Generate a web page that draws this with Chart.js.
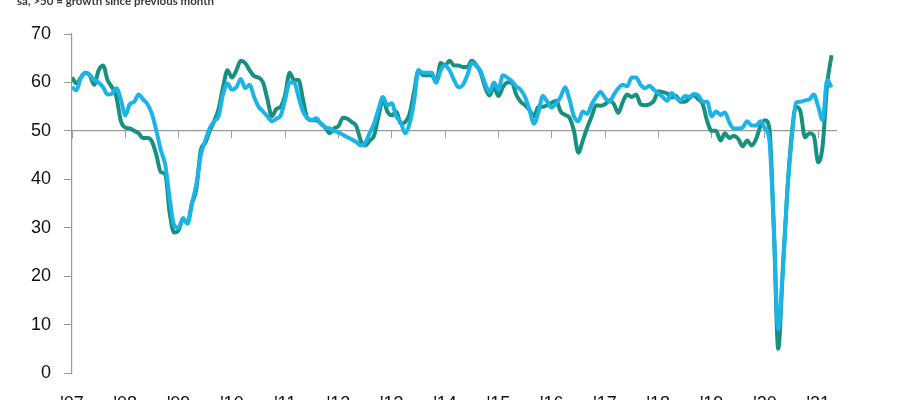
<!DOCTYPE html>
<html>
<head>
<meta charset="utf-8">
<script src="https://cdn.jsdelivr.net/npm/chart.js@4/dist/chart.umd.min.js"></script>
<style>
  html, body { margin:0; padding:0; background:#fff; overflow:hidden; width:900px; height:400px; }
  #wrap { position:relative; width:900px; height:430px; }
  #sub { position:absolute; left:17px; top:-6px; font-family:Lato, "Liberation Sans", sans-serif; font-weight:700; font-size:11.5px; color:#3a3a3a; white-space:nowrap; }
</style>
</head>
<body>
<div id="wrap">
  <div id="sub">sa, &gt;50 = growth since previous month</div>
  <canvas id="chart0" width="900" height="430"></canvas>
</div>
<script>
// monthly index readings, Jan 2007 .. Apr 2021
var years = ['07','08','09','10','11','12','13','14','15','16','17','18','19','20','21'];

var greenSeries = [
  61, 59.8, 61, 62, 61.5, 59.5, 62.5, 63.5, 60.5, 59, 57, 52,
  50.7, 50.5, 50, 49.5, 48.5, 48.5, 47.8, 45, 41.5, 41, 33, 29,
  29.5, 31.8, 31, 35, 38, 46, 47.5, 50, 52, 54.5, 59, 62.5,
  61, 62.5, 64.5, 64, 62.5, 61.3, 61, 60, 56.5, 53, 54.5, 55,
  57.5, 62, 60.5, 60.5, 56.5, 52.6, 52.2, 52.2, 51.5, 50.7, 49.5, 50.5,
  51, 52.7, 52.5, 51.8, 51, 48, 47, 48, 49, 53, 56.5, 54,
  53.2, 54, 51.5, 51.8, 53.5, 58, 62.5, 61.5, 61.5, 61.5, 60, 64,
  63.5, 64.5, 63.5, 63.5, 63.2, 63.2, 64.5, 63.6, 62, 59, 57.3, 59,
  57.2, 59, 60, 60, 57.5, 56, 55.3, 54.3, 53, 55, 55, 55.3,
  55.8, 56.2, 54, 53.3, 52.7, 50, 45.5, 48, 50.7, 53, 55.3, 55.2,
  55.5, 56.3, 55.5, 53.7, 56, 57.5, 57, 57.5, 55.5, 55.3, 55.5, 56.2,
  58.2, 58, 57.7, 56.9, 57.2, 56, 56, 56.8, 57.3, 56.5, 55.5, 52,
  50, 50, 48, 49.5, 48.5, 49, 48.3, 46.8, 48, 47, 48.3, 51,
  52.2, 50.5, 30, 5, 21, 37, 49, 55, 54, 48.7, 49.5, 49,
  43.5, 47, 59.5, 65.6
];

var blueSeries = [
  59, 58.4, 61, 62, 61.5, 60.5, 60, 59, 57.5, 57.7, 58.8, 56.5,
  53.2, 55.5, 56, 57.5, 56.5, 55.5, 53.5, 50, 46, 43, 36, 30.5,
  30, 32, 30.8, 35, 39, 45, 48, 50.5, 52, 53, 57.5, 59.8,
  58.5, 59, 60.7, 58.8, 59.5, 57, 55, 54, 53, 52, 52.5, 53.2,
  56.5, 60, 60, 57, 54, 52.6, 52.2, 52.6, 51.5, 50.7, 50.5, 50,
  49.7, 49.2, 48.7, 48.2, 47.7, 47, 47.5, 49.5, 51.5, 54.5, 57, 55.3,
  55.7, 53, 51.8, 49.5, 51.5, 56, 62.5, 62, 62, 62, 60, 62.5,
  63.5, 62.5, 60.5, 59, 59.5, 61.5, 64, 63.5, 62.3, 59.8, 58, 60,
  58.5, 61.5, 61, 60.3, 59.2, 58.5, 57, 54.3, 51.5, 53.8, 57.2, 56,
  54.8, 55.7, 57, 59, 56.5, 53, 52, 54, 53.5, 55.5, 57, 58,
  56.8, 56, 57.5, 58.8, 59.5, 59.2, 61, 61, 59.5, 58.8, 59.3, 58.5,
  57.7, 57, 56.2, 57.8, 56.8, 56.3, 57.2, 57, 57.6, 57.3, 56, 56,
  53, 54, 53.3, 53.8, 51.7, 50.5, 50.5, 50.7, 52, 51.1, 51.1, 52,
  50.5, 48, 30, 9, 20.5, 37, 48, 55.8, 56, 56.3, 56.5, 57.5,
  55, 52.2, 60.5, 59
];

var toPoints = function(arr){
  return arr.map(function(v, i){ return {x: i, y: v}; });
};

// one tick per January
var yearTicks = function(scale){
  scale.ticks = years.map(function(y, i){ return {value: i * 12}; });
};

var axisGrey = '#9a9a9a';
var ctx = document.getElementById('chart0').getContext('2d');

var myChart = new Chart(ctx, {
  type: 'line',
  data: {
    datasets: [
      {
        label: 'blue',
        data: toPoints(blueSeries),
        borderColor: '#1cb4e6',
        borderWidth: 4,
        pointRadius: 0,
        cubicInterpolationMode: 'monotone',
        order: 1
      },
      {
        label: 'green',
        data: toPoints(greenSeries),
        borderColor: '#17907f',
        borderWidth: 4,
        pointRadius: 0,
        cubicInterpolationMode: 'monotone',
        order: 2
      }
    ]
  },
  options: {
    responsive: false,
    animation: false,
    layout: { padding: { top: 34, right: 64, left: 0, bottom: 0 } },
    plugins: {
      legend: { display: false },
      tooltip: { enabled: false }
    },
    scales: {
      x: {
        type: 'linear',
        position: 'bottom',
        min: 0,
        max: 172,
        afterBuildTicks: yearTicks,
        afterFit: function(s){ s.height = 57; },
        grid: { display: false, drawTicks: false },
        border: { display: false },
        ticks: {
          padding: 20,
          maxRotation: 0,
          autoSkip: false,
          color: '#111',
          font: { family: 'Liberation Sans', size: 18 },
          callback: function(v){ return "'" + years[Math.round(v / 12)]; }
        }
      },
      // axis line crossing at 50, with year ticks hanging below
      x50: {
        type: 'linear',
        axis: 'x',
        position: { y: 50 },
        min: 0,
        max: 172,
        afterBuildTicks: yearTicks,
        grid: { drawOnChartArea: false, drawTicks: true, tickLength: 7, color: axisGrey, lineWidth: 1 },
        border: { display: true, color: axisGrey, width: 1.2 },
        ticks: { display: true, maxRotation: 0, autoSkip: false, callback: function(){ return ''; } }
      },
      y: {
        min: 0,
        max: 70,
        afterFit: function(s){ s.width = 72; },
        grid: { drawOnChartArea: false, drawTicks: true, tickLength: 8, color: axisGrey },
        border: { display: true, color: axisGrey, width: 1.2 },
        ticks: {
          stepSize: 10,
          padding: 13,
          color: '#111',
          font: { family: 'Liberation Sans', size: 18 }
        }
      }
    }
  }
});
</script>
</body>
</html>
